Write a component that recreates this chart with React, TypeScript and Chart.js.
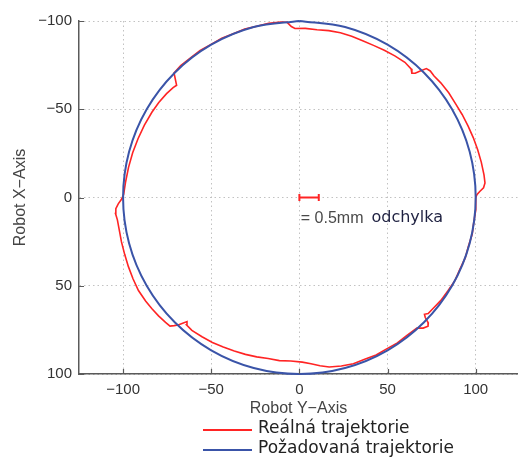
import React, { useEffect, useRef } from 'react';
import { Chart, registerables } from 'chart.js';

Chart.register(...registerables);

// ---- axes ----
const AXIS_TICKS = [-100, -50, 0, 50, 100];
const TICK_LABELS = ['\u2212100', '\u221250', '0', '50', '100'];
const X_MIN = -125;
const X_MAX = 124;
const Y_MIN = -100;
const Y_MAX = 100;
const X_TITLE = 'Robot Y\u2212Axis';
const Y_TITLE = 'Robot X\u2212Axis';

// ---- series ----
const SERIES_NAMES = ['Reálná trajektorie', 'Požadovaná trajektorie'];
const SERIES_COLORS = ['#ff2424', '#3a54a8'];

// desired trajectory: circle of radius 100 (points every 15°, from the top, clockwise)
const DESIRED_X = [0, 25.9, 50, 70.7, 86.6, 96.6, 100, 96.6, 86.6, 70.7, 50, 25.9, 0, -25.9, -50, -70.7, -86.6, -96.6, -100, -96.6, -86.6, -70.7, -50, -25.9, 0];
const DESIRED_Y = [-100, -96.6, -86.6, -70.7, -50, -25.9, 0, 25.9, 50, 70.7, 86.6, 96.6, 100, 96.6, 86.6, 70.7, 50, 25.9, 0, -25.9, -50, -70.7, -86.6, -96.6, -100];

// real trajectory read as (angle on screen in degrees, radius)
const REAL_ANGLE = [
  0, 4, 8, 12, 16, 20, 24, 28, 32, 36, 39, 42, 43, 43.6, 44.2, 45, 46.5, 48,
  52, 56, 60, 64, 68, 72, 76, 80, 83, 86, 89, 93, 97, 101, 105, 109, 113, 117,
  121, 125, 129, 131.5, 132.2, 133, 133.6, 134.4, 135.2, 137, 140, 143, 146, 150,
  154, 158, 162, 166, 170, 173, 175, 176.5, 178, 179.5, 181, 185, 190, 195, 200,
  205, 210, 214, 218, 221, 222.4, 224.8, 228, 232, 236, 240, 244, 248, 252, 256,
  260, 264, 266, 267.3, 268.5, 272, 276, 280, 284, 288, 292, 296, 300, 304, 308,
  311, 312.2, 313, 313.8, 314.6, 316, 318, 321, 325, 329, 333, 337, 341, 345,
  349, 353, 355.5, 357, 358, 359, 360,
];
const REAL_RADIUS = [
  100.0, 100.3, 99.9, 100.2, 99.8, 100.1, 99.7, 100.0, 99.5, 99.2, 98.6, 98.3, 97.0, 98.6, 102.0, 103.2, 102.0, 99.6,
  99.1, 99.4, 99.0, 99.3, 98.9, 99.1, 98.4, 97.5, 96.0, 94.4, 93.3, 92.8, 93.1, 92.9, 93.5, 94.0, 94.5, 95.1,
  95.8, 96.3, 96.9, 96.5, 94.9, 97.6, 99.7, 101.6, 103.4, 103.8, 104.3, 104.7, 105.1, 105.4,
  105.0, 104.6, 104.2, 104.0, 103.8, 104.0, 104.7, 104.3, 102.8, 100.8, 99.7, 99.0, 98.4, 97.9, 97.4,
  97.0, 96.6, 96.2, 95.6, 94.9, 94.3, 100.2, 100.6, 100.3, 100.6, 100.2, 100.4, 100.1, 100.3, 100.0,
  100.2, 99.9, 99.5, 97.0, 95.8, 95.9, 95.6, 96.0, 96.2, 96.0, 95.8, 95.9, 96.3, 96.8, 97.2,
  96.6, 95.0, 96.3, 99.5, 102.6, 103.2, 102.8, 103.2, 103.4, 103.3, 103.6, 103.9, 104.3, 104.7,
  105.1, 105.5, 105.6, 104.6, 102.5, 100.8, 100.0,
];

// deviation scale bar and note
const DEV_BAR_X = [0, 11];
const DEV_BAR_Y = [0, 0];
const DEV_NOTE = '= 0.5mm';
const DEV_WORD = 'odchylka';
const NOTE_POS = [0.8, 11.8];

const realPoints = REAL_ANGLE.map((a, i) => {
  const t = (a * Math.PI) / 180;
  return { x: REAL_RADIUS[i] * Math.cos(t), y: REAL_RADIUS[i] * Math.sin(t) };
});
const desiredPoints = DESIRED_X.map((x, i) => ({ x, y: DESIRED_Y[i] }));
const barPoints = DEV_BAR_X.map((x, i) => ({ x, y: DEV_BAR_Y[i] }));

const TICK_FONT = { family: '"Liberation Sans", Arial, sans-serif', size: 15 };
const TITLE_FONT = { family: '"Liberation Sans", Arial, sans-serif', size: 16 };

const overlay = {
  id: 'overlay',
  afterDraw(chart: any) {
    const { ctx, chartArea: a, scales } = chart;
    const xs = scales.x;
    const ys = scales.y;
    ctx.save();
    // inward tick marks
    ctx.strokeStyle = '#5a5a5a';
    ctx.lineWidth = 1.2;
    ctx.beginPath();
    AXIS_TICKS.forEach((v) => {
      const px = Math.round(xs.getPixelForValue(v)) + 0.5;
      ctx.moveTo(px, a.bottom);
      ctx.lineTo(px, a.bottom - 5);
      const py = Math.round(ys.getPixelForValue(v)) + 0.5;
      ctx.moveTo(a.left, py);
      ctx.lineTo(a.left + 5, py);
    });
    ctx.stroke();

    // note text
    const nx = xs.getPixelForValue(NOTE_POS[0]);
    const ny = ys.getPixelForValue(NOTE_POS[1]);
    ctx.textBaseline = 'middle';
    ctx.textAlign = 'left';
    ctx.font = '16px "Liberation Sans", Arial, sans-serif';
    ctx.fillStyle = '#4a4a4a';
    ctx.fillText(DEV_NOTE, nx, ny);
    const w = ctx.measureText(DEV_NOTE).width;
    ctx.font = '16px "DejaVu Sans", sans-serif';
    ctx.fillStyle = '#1e2040';
    ctx.fillText(DEV_WORD, nx + w + 8, ny);

    // legend
    ctx.font = '17px "DejaVu Sans", sans-serif';
    SERIES_NAMES.forEach((name, i) => {
      const ly = a.bottom + 56 + i * 20;
      const lx = a.left + 124;
      ctx.strokeStyle = SERIES_COLORS[i];
      ctx.lineWidth = 2;
      ctx.beginPath();
      ctx.moveTo(lx, ly);
      ctx.lineTo(lx + 49, ly);
      ctx.stroke();
      ctx.fillStyle = '#222222';
      ctx.fillText(name, lx + 55, ly - 1);
    });
    ctx.restore();
  },
};

export default function App() {
  const ref = useRef<HTMLCanvasElement>(null);
  useEffect(() => {
    const canvas = ref.current;
    if (!canvas) return;
    const chart = new Chart(canvas, {
      type: 'scatter',
      data: {
        datasets: [
          {
            label: SERIES_NAMES[0],
            data: realPoints,
            showLine: true,
            borderColor: SERIES_COLORS[0],
            borderWidth: 1.6,
            pointRadius: 0,
            tension: 0,
            clip: false,
            order: 2,
          },
          {
            label: SERIES_NAMES[1],
            data: desiredPoints,
            showLine: true,
            borderColor: SERIES_COLORS[1],
            borderWidth: 2,
            pointRadius: 0,
            tension: 0.3375,
            clip: false,
            order: 1,
          },
          {
            label: 'bar',
            data: barPoints,
            showLine: true,
            borderColor: SERIES_COLORS[0],
            borderWidth: 2,
            pointStyle: 'line',
            pointRotation: 90,
            pointRadius: 3.5,
            pointBorderColor: SERIES_COLORS[0],
            pointBorderWidth: 2,
            clip: false,
            order: 0,
          },
        ],
      } as any,
      options: {
        animation: false,
        responsive: false,
        devicePixelRatio: 1,
        layout: { autoPadding: false, padding: { top: 21, left: 0, right: 0, bottom: 0 } },
        elements: { line: { capBezierPoints: false } as any },
        plugins: { legend: { display: false }, tooltip: { enabled: false } },
        events: [],
        scales: {
          x: {
            type: 'linear',
            position: 'bottom',
            min: X_MIN,
            max: X_MAX,
            afterBuildTicks: (s: any) => {
              s.ticks = AXIS_TICKS.map((v) => ({ value: v }));
            },
            afterFit: (s: any) => {
              s.height = 87;
            },
            ticks: {
              callback: (_v: any, i: number) => TICK_LABELS[i],
              font: TICK_FONT,
              color: '#333333',
              padding: 7,
              maxRotation: 0,
              autoSkip: false,
            },
            grid: { color: '#c2c2c2', lineWidth: 1, drawTicks: false, tickLength: 0 },
            border: { color: '#5a5a5a', width: 1.5, dash: [1.5, 3] },
            title: {
              display: true,
              text: X_TITLE,
              font: TITLE_FONT,
              color: '#444444',
              padding: { top: 0, bottom: 43 },
            },
          },
          y: {
            type: 'linear',
            position: 'left',
            reverse: true,
            min: Y_MIN,
            max: Y_MAX,
            afterBuildTicks: (s: any) => {
              s.ticks = AXIS_TICKS.map((v) => ({ value: v }));
            },
            afterFit: (s: any) => {
              s.width = 79;
            },
            ticks: {
              callback: (_v: any, i: number) => TICK_LABELS[i],
              font: TICK_FONT,
              color: '#333333',
              padding: 7,
              autoSkip: false,
            },
            grid: { color: '#c2c2c2', lineWidth: 1, drawTicks: false, tickLength: 0 },
            border: { color: '#5a5a5a', width: 1.5, dash: [1.5, 3] },
            title: {
              display: true,
              text: Y_TITLE,
              font: TITLE_FONT,
              color: '#444444',
              padding: { top: 11, bottom: 0 },
            },
          },
        },
      } as any,
      plugins: [overlay],
    });
    return () => chart.destroy();
  }, []);

  return (
    <div style={{ position: 'absolute', left: 0, top: 0, width: 518, height: 461, background: '#ffffff' }}>
      <canvas ref={ref} width={518} height={461} style={{ display: 'block', width: 518, height: 461 }} />
    </div>
  );
}
